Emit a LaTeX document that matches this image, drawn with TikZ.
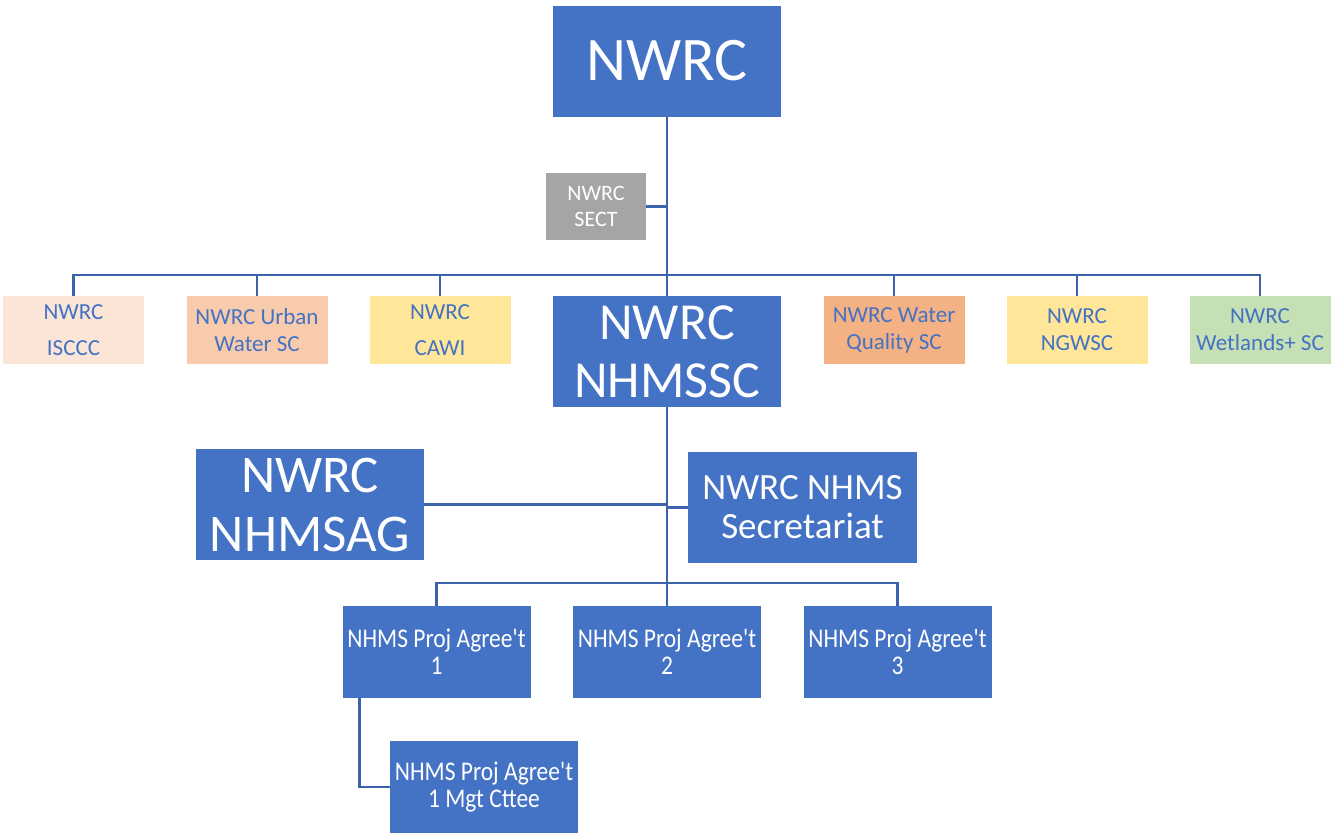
\documentclass[tikz,border=0pt]{standalone}
\usepackage{fontspec}
\setmainfont{Carlito}
\newfontfamily\condfont[FakeStretch=0.87]{Carlito}
\usepackage{tikz}
\definecolor{boxblue}{HTML}{4472C4}
\definecolor{boxgrey}{HTML}{A5A5A5}
\definecolor{linkblue}{HTML}{3B62AB}
\definecolor{peach}{HTML}{FBE5D6}
\definecolor{salmon}{HTML}{F8CBAD}
\definecolor{butter}{HTML}{FFE699}
\definecolor{orange}{HTML}{F4B183}
\definecolor{sage}{HTML}{C5E0B4}
\tikzset{%
  bigbox/.style={shape=rectangle,fill=boxblue,text=white,align=center,inner sep=0,
    minimum width=228,minimum height=111},
  subbox/.style={shape=rectangle,fill=#1,text=boxblue,align=center,inner sep=0,
    minimum width=141,minimum height=68,font=\fontsize{23}{27}\selectfont},
  projbox/.style={shape=rectangle,fill=boxblue,text=white,align=center,inner sep=0,
    minimum width=188,minimum height=92,font=\condfont\fontsize{27}{27}\selectfont},
  conn/.style={draw=linkblue,line width=2.6}
}

\begin{document}
\begin{tikzpicture}[x=1pt,y=-1pt]
    \useasboundingbox (0,0) rectangle (1331,838);
    \path
      (667,61) node (nwrc)[bigbox,font=\fontsize{62}{62}\selectfont]{NWRC}
      (596,206.5) node (sect)[shape=rectangle,fill=boxgrey,text=white,align=center,inner sep=0,
        minimum width=100,minimum height=67,font=\fontsize{22}{26}\selectfont]{NWRC\\SECT}
      (667,275) coordinate (bar)
      (73.5,330) node (isccc)[subbox=peach]{NWRC\\[9pt]ISCCC}
      (257,330) node (urban)[subbox=salmon]{NWRC Urban\\Water SC}
      (440,330) node (cawi)[subbox=butter]{NWRC\\[9pt]CAWI}
      (667,351.5) node (nhmssc)[bigbox,font=\fontsize{52}{58}\selectfont]{NWRC\\NHMSSC}
      (894,330) node (wq)[subbox=orange]{NWRC Water\\Quality SC}
      (1077,330) node (ngwsc)[subbox=butter]{NWRC\\NGWSC}
      (1260,330) node (wet)[subbox=sage]{NWRC\\Wetlands+ SC}
      (310,504.5) node (nhmsag)[bigbox,font=\fontsize{53}{59}\selectfont]{NWRC\\NHMSAG}
      (802.5,507.5) node (secr)[bigbox,minimum width=229,font=\fontsize{37}{39}\selectfont]{NWRC NHMS\\Secretariat}
      (667,583) coordinate (bar2)
      (436.5,652) node (projA)[projbox]{NHMS Proj Agree't\\1}
      (667,652) node (projB)[projbox]{NHMS Proj Agree't\\2}
      (897.5,652) node (projC)[projbox]{NHMS Proj Agree't\\3}
      (484,787) node (mgt)[projbox]{NHMS Proj Agree't\\1 Mgt Cttee};
    % top half
    \draw[conn] (nwrc) -- (nhmssc);
    \draw[conn] (sect) -- (sect -| nwrc);
    \foreach \sc in {isccc,urban,cawi,wq,ngwsc,wet}
      \draw[conn] (\sc.north) |- (bar);
    % lower half
    \draw[conn] (nhmssc) -- (projB);
    \draw[conn] (nhmsag) -- (nhmsag -| nhmssc);
    \draw[conn] (secr) -- (secr -| nhmssc);
    \foreach \pa in {projA,projC}
      \draw[conn] (\pa.north) |- (bar2);
    \draw[conn] ([xshift=17]projA.south west) |- (mgt.west);
  \end{tikzpicture}
\end{document}
